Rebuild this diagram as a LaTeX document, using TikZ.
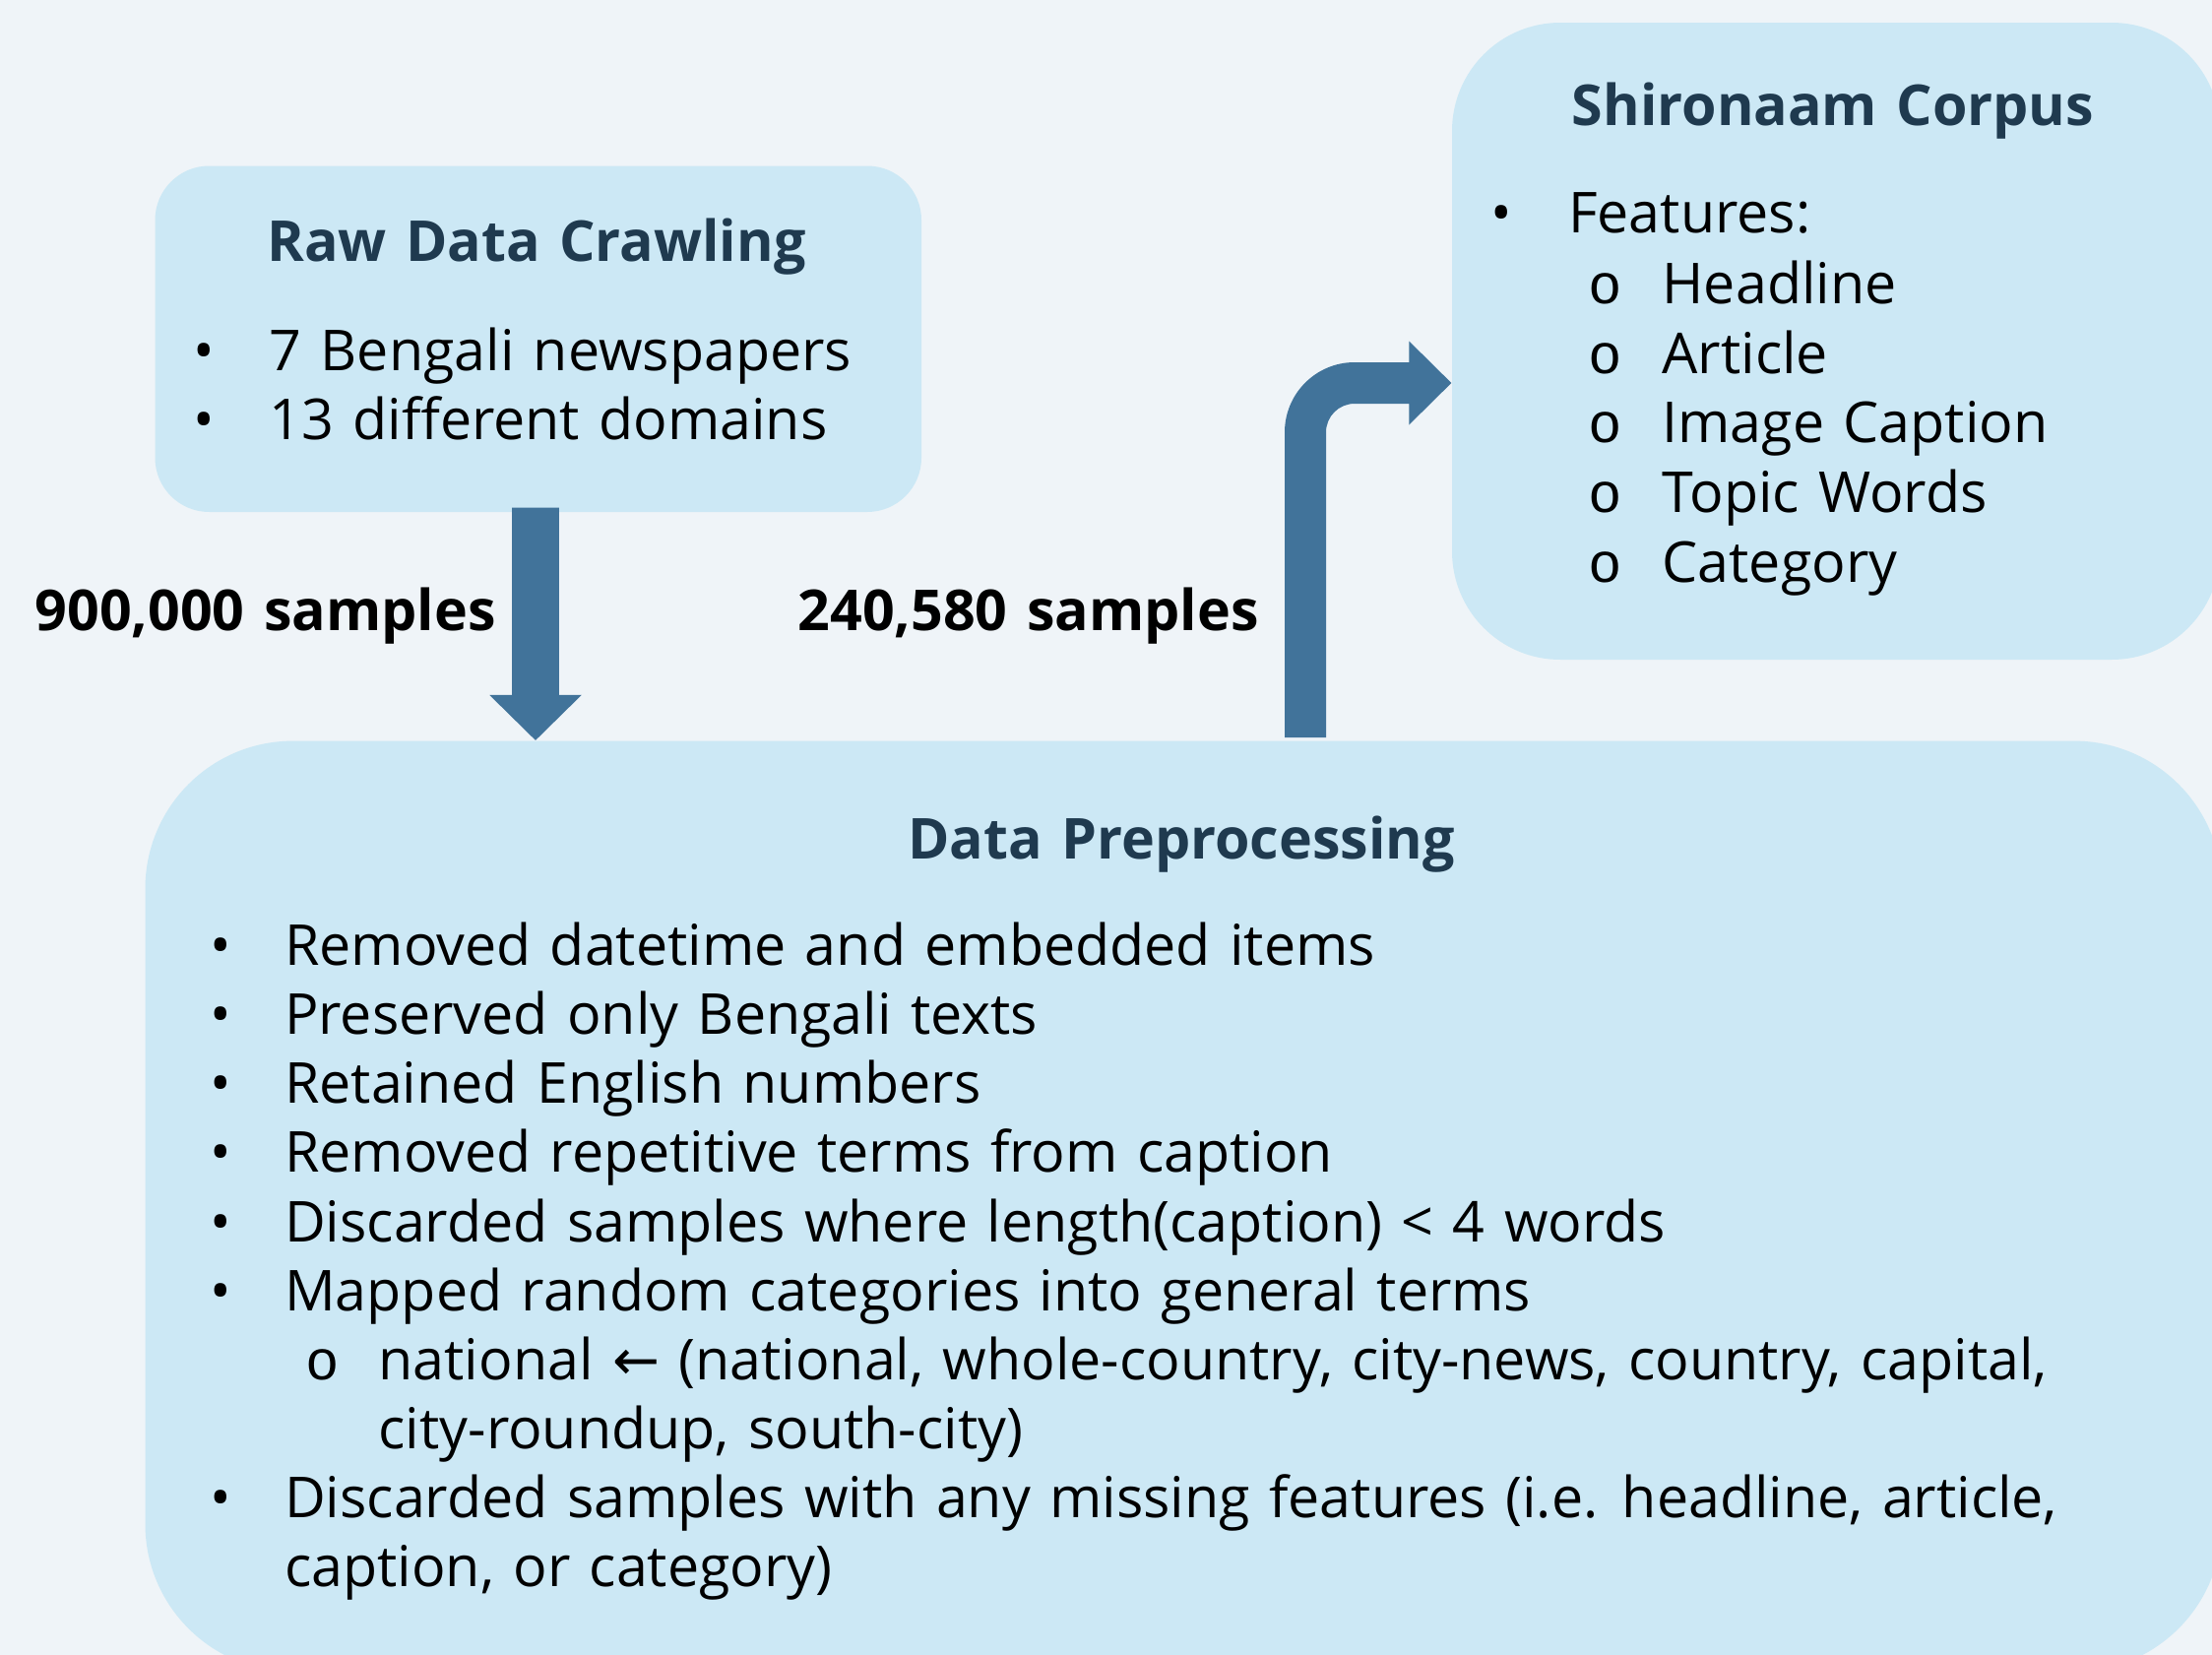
\documentclass[tikz,border=0pt]{standalone}
\usepackage{fontspec}
\setmainfont{Open Sans}[WordSpace=1.3]
\newfontfamily\monof{Liberation Mono}
\newfontfamily\symf{DejaVu Sans}
\usetikzlibrary{calc}
\definecolor{bgc}{HTML}{EFF4F8}
\definecolor{boxc}{HTML}{CCE8F5}
\definecolor{arrc}{HTML}{41739A}
\definecolor{titc}{HTML}{1F3A4F}
\begin{document}
\begin{tikzpicture}[x=0.3pt,y=-0.3pt,
 box/.style={fill=boxc, draw=none, inner sep=0pt},
 txt/.style={inner sep=0pt, anchor=base west, font=\fontsize{17.2}{20}\selectfont, text=black},
 ttl/.style={inner sep=0pt, anchor=base, font=\fontsize{17.2}{20}\selectfont\bfseries, text=titc},
 bul/.style={inner sep=0pt, anchor=base, font=\fontsize{17.2}{20}\selectfont},
 subb/.style={inner sep=0pt, anchor=base, font=\fontsize{17.2}{20}\selectfont\monof},
 lbl/.style={inner sep=0pt, anchor=base west, font=\fontsize{17.2}{20}\selectfont\bfseries},
 arrowshape/.style={fill=arrc, draw=none}]
\fill[bgc] (0,0) rectangle (2247,1681);
\useasboundingbox (0,0) rectangle (2247,1681);

% boxes
\node[box, rounded corners=16.5pt, minimum width=233.55pt, minimum height=105.45pt] (raw) at (546.75,344.25) {};
\node[box, rounded corners=33pt, minimum width=234pt, minimum height=194.1pt] (shiro) at (1865,346.5) {};
\node[box, rounded corners=45pt, minimum width=632.85pt, minimum height=283.62pt] (pre) at (1202.25,1225.3) {};

% arrow 1 (raw -> pre)
\coordinate (a1s) at ($(raw.south)+(-2.75,-5)$);
\coordinate (a1e) at (pre.north -| a1s);
\fill[arrowshape] ($(a1s)+(-23.8,0)$) -- ($(a1s)+(23.8,0)$) -- ($(a1e)+(23.8,-46)$) -- ($(a1e)+(46.75,-46)$) -- (a1e) -- ($(a1e)+(-46.75,-46)$) -- ($(a1e)+(-23.8,-46)$) -- cycle;

% arrow 2 (pre -> shiro)
\coordinate (a2e) at (shiro.west |- 0,389);
\coordinate (a2s) at (1326,749);
\fill[arrowshape] ($(a2s)+(-21,0)$) -- (1305,439) arc[start angle=180, end angle=270, radius=71] -- ($(a2e)+(-43,-21)$) -- ($(a2e)+(-43,-42.5)$) -- (a2e) -- ($(a2e)+(-43,42.5)$) -- ($(a2e)+(-43,21)$) -- (1376,410) arc[start angle=270, end angle=180, radius=29] -- ($(a2s)+(21,0)$) -- cycle;

% labels
\node[lbl] (l1) at (35,640) {900,000 samples};
\node[lbl] (l2) at (810,640) {240,580 samples};

% raw text
\node[ttl] (rawt) at (545,265) {Raw Data Crawling};
\node[bul] (rb1) at (207,376) {•};
\node[txt] (r1) at (273,376) {7 Bengali newspapers};
\node[bul] (rb2) at (207,446) {•};
\node[txt] (r2) at (273,446) {13 different domains};

% shiro text
\node[ttl] (shirot) at (1862,127.5) {Shironaam Corpus};
\node[bul] (sb) at (1525,237) {•};
\node[txt] (sf) at (1592.5,237) {Features:};
\node[subb] (sc1) at (1630.7,308.5) {o};
\node[txt] (s1) at (1688,308.5) {Headline};
\node[subb] (sc2) at (1630.7,379) {o};
\node[txt] (s2) at (1688,379) {Article};
\node[subb] (sc3) at (1630.7,449.5) {o};
\node[txt] (s3) at (1688,449.5) {Image Caption};
\node[subb] (sc4) at (1630.7,520) {o};
\node[txt] (s4) at (1688,520) {Topic Words};
\node[subb] (sc5) at (1630.7,591) {o};
\node[txt] (s5) at (1688,591) {Category};

% pre text
\node[ttl] (pret) at (1200,872) {Data Preprocessing};
\node[bul] (pb1) at (224,980) {•};
\node[txt] (p1) at (288.5,980) {Removed datetime and embedded items};
\node[bul] (pb2) at (224,1050.3) {•};
\node[txt] (p2) at (288.5,1050.3) {Preserved only Bengali texts};
\node[bul] (pb3) at (224,1120.5) {•};
\node[txt] (p3) at (288.5,1120.5) {Retained English numbers};
\node[bul] (pb4) at (224,1190.7) {•};
\node[txt] (p4) at (288.5,1190.7) {Removed repetitive terms from caption};
\node[bul] (pb5) at (224,1261) {•};
\node[txt] (p5) at (288.5,1261) {Discarded samples where length(caption) < 4 words};
\node[bul] (pb6) at (224,1331) {•};
\node[txt] (p6) at (288.5,1331) {Mapped random categories into general terms};
\node[subb] (pc1) at (327.5,1401) {o};
\node[txt] (p7) at (384,1401) {national {\symf ←} (national, whole-country, city-news, country, capital,};
\node[txt] (p7b) at (384,1471) {city-roundup, south-city)};
\node[bul] (pb8) at (224,1541.7) {•};
\node[txt] (p8) at (288.5,1541.7) {Discarded samples with any missing features (i.e. headline, article,};
\node[txt] (p8b) at (288.5,1611.8) {caption, or category)};
\end{tikzpicture}
\end{document}
